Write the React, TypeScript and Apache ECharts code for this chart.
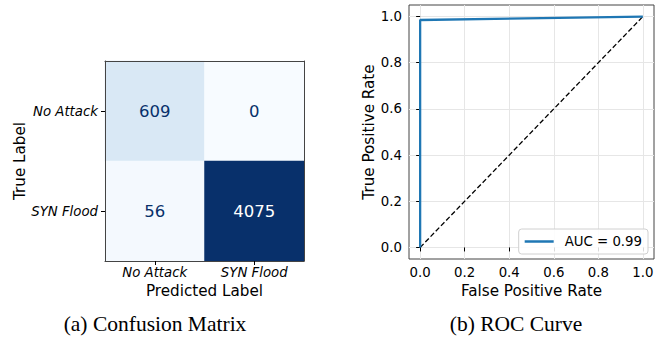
import React, { useEffect, useRef } from "react";
import * as echarts from "echarts";

const classLabels = ["No Attack", "SYN Flood"];
// rows: true label, columns: predicted label
const matrix = [
  [609, 0],
  [56, 4075],
];
const fpr = [0, 0, 1];
const tpr = [0, 0.985, 1];
const chanceX = [0, 1];
const chanceY = [0, 1];
const aucLabel = "AUC = 0.99";
const rocTicks = [0, 0.2, 0.4, 0.6, 0.8, 1.0];
const captions = ["(a) Confusion Matrix", "(b) ROC Curve"];

const blues = [
  "#f7fbff",
  "#deebf7",
  "#c6dbef",
  "#9ecae1",
  "#6baed6",
  "#4292c6",
  "#2171b5",
  "#08519c",
  "#08306b",
];

export default function App() {
  const ref = useRef<HTMLDivElement>(null);
  useEffect(() => {
    if (!ref.current) return;
    const chart = echarts.init(ref.current, null, { renderer: "svg" });
    const maxVal = Math.max(...matrix.flat());
    const heatData: any[] = [];
    matrix.forEach((row, r) =>
      row.forEach((v, c) => {
        heatData.push({
          value: [c, r, v],
          label: { color: v > maxVal / 2 ? "#ffffff" : "#08306b" },
        });
      })
    );
    const font = "DejaVu Sans";
    const spine = "#444";
    chart.setOption({
      animation: false,
      textStyle: { fontFamily: font },
      grid: [
        { left: 105, top: 61, width: 199, height: 200 },
        {
          left: 409,
          top: 5,
          width: 245,
          height: 254,
          show: true,
          borderColor: spine,
          borderWidth: 1,
          backgroundColor: "transparent",
        },
      ],
      visualMap: {
        type: "continuous",
        show: false,
        min: 0,
        max: maxVal,
        seriesIndex: 0,
        inRange: { color: blues },
      },
      xAxis: [
        {
          type: "category",
          gridIndex: 0,
          data: classLabels,
          z: 10,
          axisLine: { show: true, lineStyle: { color: spine, width: 1 } },
          axisTick: { show: true, alignWithLabel: true, length: 4, lineStyle: { color: "#000" } },
          axisLabel: { fontStyle: "italic", fontSize: 13.3, color: "#000", margin: 5, fontFamily: font },
          splitLine: { show: false },
          name: "Predicted Label",
          nameLocation: "middle",
          nameGap: 21,
          nameTextStyle: { fontSize: 15.2, color: "#000", fontFamily: font },
        },
        {
          type: "category",
          gridIndex: 0,
          data: classLabels,
          position: "top",
          z: 10,
          axisLine: { show: true, lineStyle: { color: spine, width: 1 } },
          axisTick: { show: false },
          axisLabel: { show: false },
          splitLine: { show: false },
        },
        {
          type: "value",
          gridIndex: 1,
          min: -0.05,
          max: 1.05,
          axisLine: { show: false },
          axisTick: { show: true, length: 4, customValues: rocTicks, lineStyle: { color: "#000" } },
          axisLabel: {
            customValues: rocTicks,
            formatter: (v: number) => v.toFixed(1),
            fontSize: 13.3,
            color: "#000",
            margin: 7,
            fontFamily: font,
          },
          splitLine: { show: true, lineStyle: { color: "#e6e6e6", width: 1 } },
          name: "False Positive Rate",
          nameLocation: "middle",
          nameGap: 21,
          nameTextStyle: { fontSize: 15.2, color: "#000", fontFamily: font },
        },
      ],
      yAxis: [
        {
          type: "category",
          gridIndex: 0,
          data: classLabels,
          inverse: true,
          z: 10,
          axisLine: { show: true, lineStyle: { color: spine, width: 1 } },
          axisTick: { show: true, alignWithLabel: true, length: 4, lineStyle: { color: "#000" } },
          axisLabel: { fontStyle: "italic", fontSize: 13.3, color: "#000", margin: 7, fontFamily: font },
          splitLine: { show: false },
          name: "True Label",
          nameLocation: "middle",
          nameGap: 76,
          nameTextStyle: { fontSize: 15.2, color: "#000", fontFamily: font },
        },
        {
          type: "category",
          gridIndex: 0,
          data: classLabels,
          inverse: true,
          position: "right",
          z: 10,
          axisLine: { show: true, lineStyle: { color: spine, width: 1 } },
          axisTick: { show: false },
          axisLabel: { show: false },
          splitLine: { show: false },
        },
        {
          type: "value",
          gridIndex: 1,
          min: -0.05,
          max: 1.05,
          axisLine: { show: false },
          axisTick: { show: true, length: 4, customValues: rocTicks, lineStyle: { color: "#000" } },
          axisLabel: {
            customValues: rocTicks,
            formatter: (v: number) => v.toFixed(1),
            fontSize: 13.3,
            color: "#000",
            margin: 7,
            fontFamily: font,
          },
          splitLine: { show: true, lineStyle: { color: "#e6e6e6", width: 1 } },
          name: "True Positive Rate",
          nameLocation: "middle",
          nameGap: 31,
          nameTextStyle: { fontSize: 15.2, color: "#000", fontFamily: font },
        },
      ],
      legend: {
        data: [{ name: aucLabel, icon: "rect" }],
        right: 16,
        bottom: 85,
        orient: "vertical",
        itemWidth: 29,
        itemHeight: 2.5,
        padding: [6, 6, 6, 6],
        borderColor: "#d0d0d0",
        borderWidth: 1,
        borderRadius: 3,
        backgroundColor: "rgba(255,255,255,0.85)",
        itemStyle: { color: "#1f77b4", borderWidth: 0 },
        textStyle: { fontSize: 13.3, color: "#000", fontFamily: font, padding: [0, 0, 0, 6] },
      },
      series: [
        {
          type: "heatmap",
          xAxisIndex: 0,
          yAxisIndex: 0,
          data: heatData,
          label: {
            show: true,
            fontSize: 16.5,
            fontFamily: font,
            formatter: (p: any) => String(p.value[2]),
          },
          itemStyle: { borderWidth: 0 },
          emphasis: { disabled: true },
        },
        {
          type: "line",
          name: "chance",
          xAxisIndex: 2,
          yAxisIndex: 2,
          data: chanceX.map((x, i) => [x, chanceY[i]]),
          symbol: "none",
          lineStyle: { color: "#000", width: 1.3, type: [5, 2.5] },
          z: 3,
        },
        {
          type: "line",
          name: aucLabel,
          xAxisIndex: 2,
          yAxisIndex: 2,
          data: fpr.map((x, i) => [x, tpr[i]]),
          symbol: "none",
          color: "#1f77b4",
          lineStyle: { color: "#1f77b4", width: 2.3 },
          z: 4,
        },
      ],
      graphic: [
        {
          type: "text",
          x: 155,
          y: 324,
          style: {
            text: captions[0],
            font: "21.5px 'Liberation Serif'",
            fill: "#000",
            textAlign: "center",
            textVerticalAlign: "middle",
          },
        },
        {
          type: "text",
          x: 516,
          y: 324,
          style: {
            text: captions[1],
            font: "21.5px 'Liberation Serif'",
            fill: "#000",
            textAlign: "center",
            textVerticalAlign: "middle",
          },
        },
      ],
    });
    return () => chart.dispose();
  }, []);
  return (
    <div
      ref={ref}
      style={{ position: "fixed", left: 0, top: 0, width: 664, height: 339, background: "#fff" }}
    />
  );
}
